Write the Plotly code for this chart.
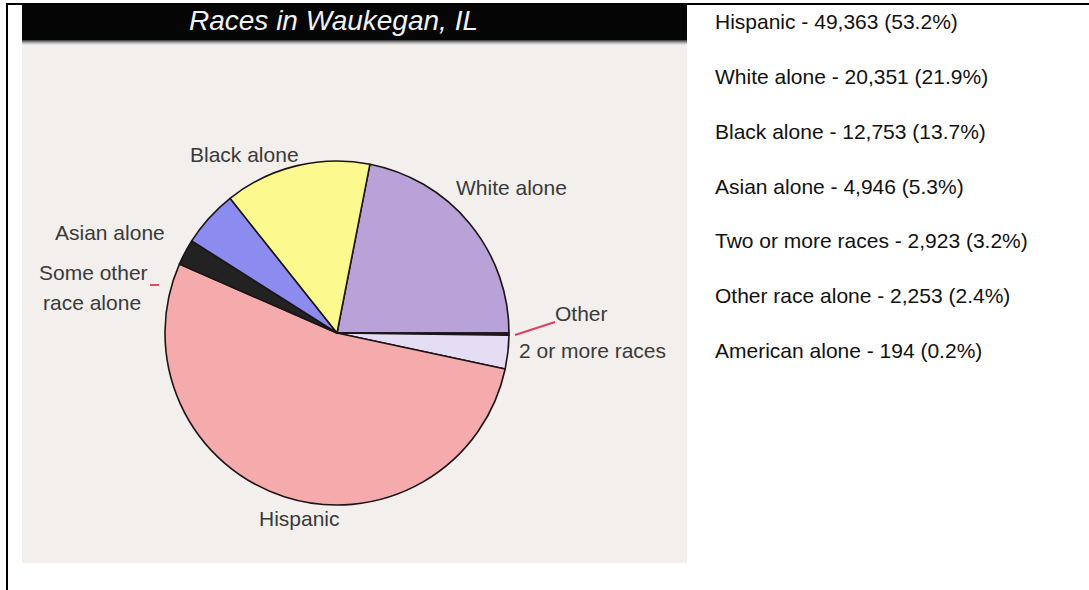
import plotly.graph_objects as go

# Population by race, Waukegan, IL
categories = ["Hispanic", "White alone", "Black alone", "Asian alone",
              "Two or more races", "Other race alone", "American alone"]
counts = [49363, 20351, 12753, 4946, 2923, 2253, 194]
percents = ["53.2", "21.9", "13.7", "5.3", "3.2", "2.4", "0.2"]

# Pie drawing order (clockwise from the White slice) and slice colours
pie_order = ["White alone", "American alone", "Two or more races", "Hispanic",
             "Other race alone", "Asian alone", "Black alone"]
slice_colors = {
    "Hispanic": "#f5abab",
    "White alone": "#b8a2d8",
    "Black alone": "#fcf98e",
    "Asian alone": "#8b8bf0",
    "Two or more races": "#e4ddf4",
    "Other race alone": "#222222",
    "American alone": "#3a2030",
}

# Labels written around the pie: (text, x px, y px)
pie_labels = [
    ("Black alone", 244, 155),
    ("White alone", 511, 187),
    ("Asian alone", 110, 232),
    ("Some other", 93, 273),
    ("race alone", 92, 302),
    ("Other", 581, 313),
    ("2 or more races", 592, 350),
    ("Hispanic", 299, 518),
]

W, H = 1089, 590
SANS = "Liberation Sans, Arial, sans-serif"


def px(x):
    return x / W


def py(y):
    return 1 - y / H


value_of = dict(zip(categories, counts))
pie_values = [value_of[c] for c in pie_order]
total = sum(counts)
# White slice ends exactly at 3 o'clock
rotation = 90 - 360 * value_of["White alone"] / total

cx, cy, r = 337, 333, 172

fig = go.Figure()
fig.add_trace(go.Pie(
    labels=pie_order,
    values=pie_values,
    sort=False,
    direction="clockwise",
    rotation=rotation,
    textinfo="none",
    hoverinfo="label+value+percent",
    marker=dict(colors=[slice_colors[c] for c in pie_order],
                line=dict(color="#1c1416", width=1.6)),
    domain=dict(x=[px(cx - r), px(cx + r)], y=[py(cy + r), py(cy - r)]),
    showlegend=False,
))

shapes = []
# chart panel background
shapes.append(dict(type="rect", xref="paper", yref="paper", layer="below",
                   x0=px(22), x1=px(687), y0=py(563), y1=py(40),
                   fillcolor="#f2efec", line=dict(width=0)))
# title bar
shapes.append(dict(type="rect", xref="paper", yref="paper", layer="below",
                   x0=px(22), x1=px(687), y0=py(40), y1=py(5),
                   fillcolor="#050505", line=dict(width=0)))
# shaded strip under the title bar
for i, col in enumerate(["#4a4a4a", "#7a7a7a", "#a5a5a5", "#c8c8c8", "#e2e0de"]):
    shapes.append(dict(type="rect", xref="paper", yref="paper", layer="below",
                       x0=px(22), x1=px(687), y0=py(40 + i + 1), y1=py(40 + i),
                       fillcolor=col, line=dict(width=0)))
# outer borders
shapes.append(dict(type="rect", xref="paper", yref="paper", layer="above",
                   x0=px(6), x1=px(1089), y0=py(5), y1=py(3),
                   fillcolor="#000000", line=dict(width=0)))
shapes.append(dict(type="rect", xref="paper", yref="paper", layer="above",
                   x0=px(6), x1=px(8), y0=py(590), y1=py(3),
                   fillcolor="#000000", line=dict(width=0)))
# red leader marks
shapes.append(dict(type="line", xref="paper", yref="paper",
                   x0=px(150), x1=px(159), y0=py(285), y1=py(285),
                   line=dict(color="#e0506a", width=2)))
shapes.append(dict(type="line", xref="paper", yref="paper",
                   x0=px(515), x1=px(555), y0=py(335), y1=py(322),
                   line=dict(color="#e0405a", width=2)))

annotations = []
annotations.append(dict(text="Races in Waukegan, IL", x=px(333), y=py(21),
                        xref="paper", yref="paper", showarrow=False,
                        xanchor="center", yanchor="middle",
                        font=dict(family=SANS, size=28, color="#f2f2f2",
                                  style="italic")))
for text, x, y in pie_labels:
    annotations.append(dict(text=text, x=px(x), y=py(y),
                            xref="paper", yref="paper", showarrow=False,
                            xanchor="center", yanchor="middle",
                            font=dict(family=SANS, size=21, color="#3a3a3a")))

row_y0, row_step = 22, 54.7
for i, (cat, n, p) in enumerate(zip(categories, counts, percents)):
    annotations.append(dict(text=f"{cat} - {n:,} ({p}%)",
                            x=px(713), y=py(row_y0 + i * row_step),
                            xref="paper", yref="paper", showarrow=False,
                            xanchor="left", yanchor="middle",
                            font=dict(family=SANS, size=21, color="#111111")))

fig.update_layout(
    width=W, height=H,
    margin=dict(l=0, r=0, t=0, b=0),
    paper_bgcolor="#ffffff",
    plot_bgcolor="#ffffff",
    shapes=shapes,
    annotations=annotations,
)

fig.write_html("out.html")
